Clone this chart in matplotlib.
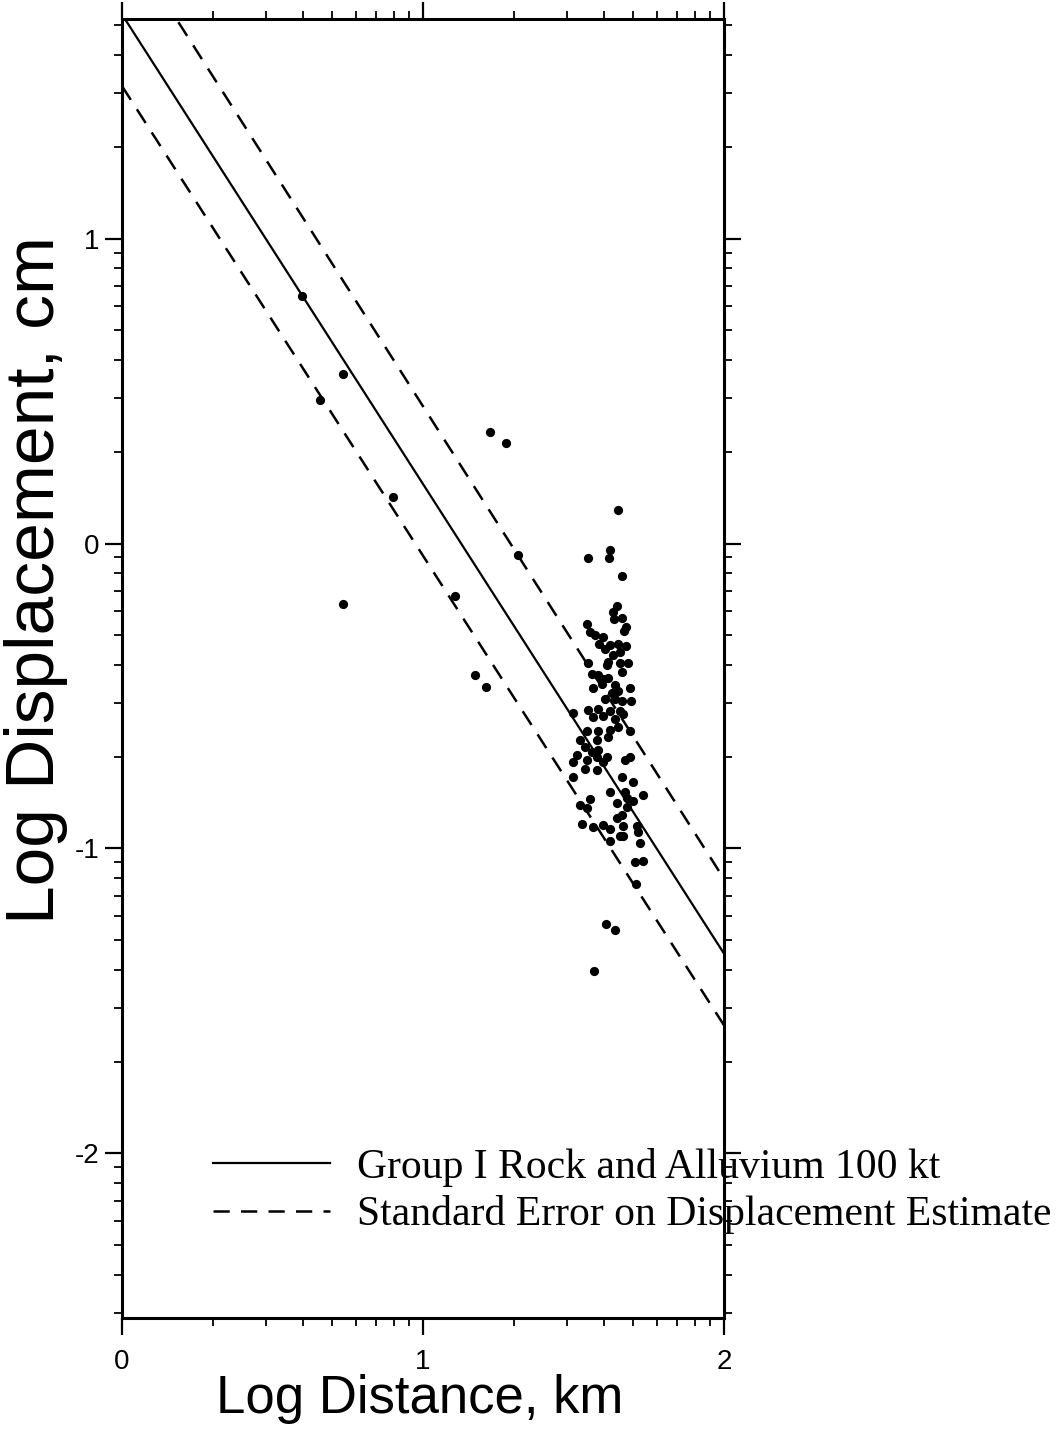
import numpy as np
import matplotlib
matplotlib.use("Agg")
import matplotlib.pyplot as plt

plt.rcParams['axes.unicode_minus'] = False

# -------------------------------
# Data (log10 distance km, log10 displacement cm)
# -------------------------------
log_dist = [0.597, 0.735, 0.658, 0.901, 1.223, 1.276, 1.315, 1.106, 0.735, 1.173, 1.209,
            1.647, 1.621, 1.617, 1.549, 1.660,
            1.643, 1.632, 1.636, 1.660, 1.674, 1.669, 1.544, 1.555, 1.571, 1.599,
            1.586, 1.605, 1.621, 1.649, 1.673, 1.654, 1.632, 1.616, 1.654, 1.682,
            1.660, 1.610, 1.549, 1.560, 1.582, 1.599, 1.616, 1.566, 1.594, 1.638,
            1.688, 1.649, 1.627, 1.605, 1.638, 1.660, 1.690,
            1.499, 1.549, 1.582, 1.621, 1.654, 1.566, 1.599, 1.638, 1.665, 1.649,
            1.688, 1.621, 1.582, 1.544, 1.522, 1.577, 1.616, 1.538, 1.511, 1.560,
            1.582, 1.610, 1.577, 1.499, 1.544, 1.599, 1.538, 1.577, 1.671, 1.688,
            1.499, 1.660, 1.699, 1.621, 1.671, 1.677, 1.732, 1.699, 1.643, 1.555,
            1.522, 1.544, 1.677,
            1.527, 1.564, 1.599, 1.621, 1.643, 1.660, 1.665, 1.665, 1.654, 1.710,
            1.715, 1.721, 1.621, 1.704, 1.732, 1.708, 1.607, 1.638, 1.568]
log_disp = [0.813, 0.557, 0.472, 0.154, 0.366, 0.331, -0.038, -0.171, -0.197, -0.431, -0.471,
            0.110, -0.022, -0.047, -0.048, -0.107,
            -0.206, -0.225, -0.249, -0.245, -0.275, -0.288, -0.264, -0.289, -0.300, -0.305,
            -0.329, -0.345, -0.334, -0.329, -0.337, -0.356, -0.367, -0.389, -0.391, -0.392,
            -0.422, -0.400, -0.392, -0.427, -0.430, -0.445, -0.441, -0.474, -0.460, -0.463,
            -0.473, -0.485, -0.489, -0.511, -0.511, -0.516, -0.516,
            -0.556, -0.545, -0.542, -0.549, -0.549, -0.569, -0.566, -0.574, -0.558, -0.601,
            -0.614, -0.612, -0.614, -0.614, -0.645, -0.645, -0.634, -0.667, -0.694, -0.683,
            -0.677, -0.699, -0.699, -0.716, -0.710, -0.716, -0.738, -0.743, -0.710, -0.699,
            -0.765, -0.765, -0.781, -0.814, -0.814, -0.836, -0.824, -0.846, -0.852, -0.839,
            -0.857, -0.868, -0.863,
            -0.921, -0.931, -0.923, -0.936, -0.899, -0.890, -0.928, -0.958, -0.958, -0.928,
            -0.947, -0.983, -0.975, -1.045, -1.042, -1.117, -1.249, -1.268, -1.402]

# regression line and standard error bands
fit_x = [0.0, 2.0]
fit_y = [1.735, -1.345]
upper_y = [2.00, -1.10]
lower_y = [1.50, -1.58]

fit_label = "Group I Rock and Alluvium 100 kt"
err_label = "Standard Error on Displacement Estimate"

# -------------------------------
# Plot
# -------------------------------
fig = plt.figure(figsize=(10.63, 14.32), dpi=100)
ax = fig.add_axes([0.1148, 0.0796, 0.5663, 0.9071])

ax.scatter(log_dist, log_disp, s=44, color='black', linewidths=0, zorder=3)
l1, = ax.plot(fit_x, fit_y, color='black', lw=1.6, label=fit_label)
l2, = ax.plot(fit_x, upper_y, color='black', lw=1.8, dashes=(6.5, 4.5), label=err_label)
ax.plot(fit_x, lower_y, color='black', lw=1.8, dashes=(6.5, 4.5))

ax.set_xlim(0, 2)
ax.set_ylim(-2.54, 1.72)

# log-style minor ticks
minor_x = [n + np.log10(k) for n in range(0, 2) for k in range(2, 10)]
minor_y = [n + np.log10(k) for n in range(-3, 2) for k in range(2, 10)]
minor_y = [v for v in minor_y if -2.54 < v < 1.72]

ax.set_xticks([0, 1, 2])
ax.set_xticklabels(['0', '1', '2'])
ax.set_xticks(minor_x, minor=True)
ax.set_yticks([-2, -1, 0, 1])
ax.set_yticklabels(['-2', '-1', '0', '1'])
ax.set_yticks(minor_y, minor=True)

ax.tick_params(which='both', direction='out', top=True, right=True,
               labeltop=False, labelright=False, labelsize=20)
ax.tick_params(which='major', length=12, width=1.6)
ax.tick_params(which='minor', length=6, width=1.3)
ax.tick_params(axis='x', which='major', pad=10)
ax.tick_params(axis='y', which='major', pad=4)
for lab in ax.get_xticklabels() + ax.get_yticklabels():
    lab.set_family('Liberation Sans')

for sp in ax.spines.values():
    sp.set_linewidth(2.2)

ax.set_xlabel("Log Distance, km", fontsize=38, family='Liberation Sans',
              va='center', ha='center')
ax.xaxis.set_label_coords(0.495, -0.062)
ax.set_ylabel("Log Displacement, cm", fontsize=50, family='Liberation Sans',
              va='center', ha='center')
ax.yaxis.set_label_coords(-0.143, 0.568)

ax.legend(handles=[l1, l2], loc='upper left', bbox_to_anchor=(0.151, 0.131),
          frameon=False, borderpad=0, borderaxespad=0, handlelength=2.8,
          handletextpad=0.65, labelspacing=0.2,
          prop={'family': 'Liberation Serif', 'size': 30})

plt.savefig("out.png", dpi=100)
